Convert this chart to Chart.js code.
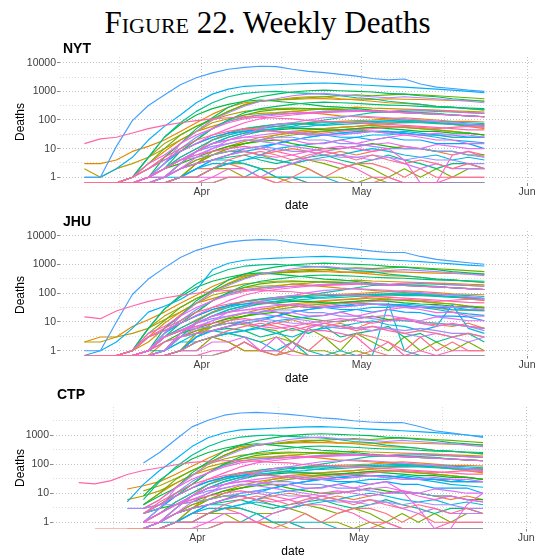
<!DOCTYPE html>
<html><head><meta charset="utf-8">
<script src="https://cdn.jsdelivr.net/npm/chart.js@4.4.1/dist/chart.umd.min.js"></script>
<style>
html,body{margin:0;padding:0;background:#fff;}
#wrap{position:relative;width:535px;height:556px;overflow:hidden;background:#fff;font-family:"Liberation Sans",Arial,sans-serif;}
canvas{position:absolute;left:0;}
.t{position:absolute;white-space:nowrap;line-height:1;color:#000;}
.c{transform:translate(-50%,-50%);font-size:12px;}
.r{transform:translate(-50%,-50%) rotate(-90deg);font-size:12px;}
.p{font-weight:bold;font-size:14px;line-height:14px;}
</style></head><body>
<div id="wrap">
 <div class="t" style="left:0;width:535px;top:6.7px;text-align:center;font-family:'Liberation Serif',serif;font-size:31px;"><span style="font-variant:small-caps">Figure</span> 22. Weekly Deaths</div>
 <div class="t p" style="left:63px;top:41.4px">NYT</div>
 <div class="t p" style="left:63px;top:213.8px">JHU</div>
 <div class="t p" style="left:57px;top:387px">CTP</div>
 <div class="t r" style="left:20px;top:122px">Deaths</div>
 <div class="t r" style="left:20px;top:294.5px">Deaths</div>
 <div class="t r" style="left:20px;top:468px">Deaths</div>
 <div class="t c" style="left:296.7px;top:204.7px">date</div>
 <div class="t c" style="left:296.7px;top:377.7px">date</div>
 <div class="t c" style="left:293px;top:550.7px">date</div>
</div>
<script>
const states = ['AK','AL','AR','AZ','CA','CO','CT','DC','DE','FL','GA','GU','HI','IA','ID','IL','IN','KS','KY','LA','MA','MD','ME','MI','MN','MO','MP','MS','MT','NC','ND','NE','NH','NJ','NM','NV','NY','OH','OK','OR','PA','PR','RI','SC','SD','TN','TX','UT','VA','VI','VT','WA','WI','WV','WY'];
const dates = ['2020-03-10','2020-03-13','2020-03-16','2020-03-19','2020-03-22','2020-03-25','2020-03-28','2020-03-31','2020-04-03','2020-04-06','2020-04-09','2020-04-12','2020-04-15','2020-04-18','2020-04-21','2020-04-24','2020-04-27','2020-04-30','2020-05-03','2020-05-06','2020-05-09','2020-05-12','2020-05-15','2020-05-18','2020-05-21','2020-05-24'];
const monthBreaks = ['2020-04-01','2020-05-01','2020-06-01'];
const monthLabels = ['Apr','May','Jun'];
const minorBreaks = ['2020-03-16T12:00:00Z','2020-04-16T00:00:00Z','2020-05-16T12:00:00Z'];
const yMajorTicks = [1,10,100,1000,10000];
const yMinorTicks = [3.1623,31.623,316.23,3162.3];

// weekly deaths, one row per state (order of `states`), one value per date
const nyt = [
[0,0,0,0,0,0,1,2,2,3,2,1,1,1,0,0,0,0,0,1,0,0,0,0,0,0],
[0,0,0,0,0,1,3,8,20,30,45,55,60,55,50,50,55,60,70,75,80,85,80,75,70,70],
[0,0,0,0,0,1,2,4,6,8,8,6,8,10,8,6,8,6,8,10,12,10,8,6,8,6],
[0,0,0,0,1,2,5,10,20,35,50,60,70,75,80,85,90,95,100,110,120,110,100,90,90,85],
[3,3,4,8,12,20,40,80,160,280,400,450,500,520,550,560,520,540,520,550,530,520,500,480,470,460],
[0,0,0,1,3,8,20,40,60,90,120,150,170,200,180,160,140,130,120,110,100,90,80,70,60,50],
[0,0,0,1,2,5,15,40,100,200,350,450,500,600,650,650,550,500,450,400,380,350,300,280,250,220],
[0,0,0,0,0,0,1,3,8,12,18,25,30,35,40,40,45,45,40,40,35,30,30,25,25,25],
[0,0,0,0,0,0,1,3,6,10,15,20,30,40,45,50,55,60,65,60,55,50,45,40,35,30],
[2,1,2,3,5,10,20,40,80,110,150,170,180,200,220,250,260,280,260,250,240,230,220,210,200,190],
[0,0,0,1,5,15,30,60,100,150,200,230,250,260,250,230,220,210,200,190,180,170,160,150,140,130],
[0,0,0,0,0,0,1,1,2,2,1,1,1,0,0,0,0,0,0,0,0,0,0,0,0,0],
[0,0,0,0,0,0,1,1,2,3,3,2,2,3,2,1,1,0,1,0,0,0,0,0,0,0],
[0,0,0,0,0,0,1,3,6,10,15,20,25,30,35,40,45,50,55,60,55,50,45,40,35,30],
[0,0,0,0,0,1,2,4,6,8,8,6,4,3,4,3,2,3,2,1,2,1,2,1,2,2],
[0,0,0,1,3,10,30,60,110,200,330,450,500,550,600,650,700,750,700,750,800,750,700,650,600,550],
[0,0,0,0,1,3,10,20,50,100,150,200,230,240,250,240,230,220,200,190,180,170,160,150,140,130],
[0,0,0,0,1,2,3,5,8,12,15,18,20,15,12,10,10,12,15,12,10,10,8,8,6,6],
[0,0,0,0,1,2,4,8,15,25,35,40,45,50,50,45,45,50,55,50,45,40,40,35,35,30],
[0,0,0,1,5,25,70,150,250,350,450,500,450,400,350,300,280,250,220,200,190,180,170,150,140,130],
[0,0,0,0,1,5,15,50,120,280,450,650,800,950,1050,1100,1050,1000,950,850,800,700,650,550,500,450],
[0,0,0,0,1,2,8,20,50,100,180,250,300,350,400,420,400,380,350,330,320,300,280,270,260,250],
[0,0,0,0,1,1,2,3,4,5,6,4,3,4,5,6,4,3,4,6,4,3,2,3,3,2],
[0,0,0,1,5,25,80,200,400,650,850,950,1000,900,850,800,700,600,550,450,400,350,300,280,250,230],
[0,0,0,0,0,1,3,8,15,20,30,40,50,60,80,100,120,150,180,190,200,210,200,190,180,170],
[0,0,0,1,2,4,8,15,25,35,50,60,70,80,70,65,70,75,80,85,90,85,80,75,70,65],
[0,0,0,0,0,0,0,0,0,1,1,2,1,1,0,0,0,0,0,0,0,0,0,0,0,0],
[0,0,0,0,1,2,5,10,20,30,40,50,60,70,75,80,80,85,90,85,80,80,75,70,65,60],
[0,0,0,0,0,1,2,3,4,4,3,2,1,1,1,1,0,0,0,0,0,0,0,0,0,0],
[0,0,0,0,0,1,3,8,15,25,35,45,50,55,60,70,80,85,90,95,100,95,90,85,80,75],
[0,0,0,0,0,1,1,2,3,3,4,5,4,3,4,5,6,8,10,8,6,5,6,4,5,4],
[0,0,0,0,0,0,1,1,2,3,4,6,10,12,14,16,20,25,30,30,35,30,25,20,18,16],
[0,0,0,0,0,0,1,2,4,6,8,10,15,20,25,30,35,40,40,35,40,35,30,30,25,25],
[1,1,2,5,20,60,150,400,800,1200,1500,1600,1700,1800,1900,1950,1850,1700,1600,1500,1400,1300,1200,1100,1000,900],
[0,0,0,0,0,0,1,2,4,6,10,12,15,20,25,30,35,35,40,40,35,30,30,25,25,25],
[0,0,0,0,1,3,8,15,25,35,40,45,40,35,30,30,25,25,20,25,20,20,15,15,15,10],
[1,1,12,95,320,750,1700,3000,4400,5900,6900,7500,7300,5900,5000,4500,3900,3400,2800,2500,2700,1800,1400,1260,1100,1000],
[0,0,0,0,1,3,10,25,50,90,130,150,160,170,180,200,210,220,200,190,180,170,160,150,140,130],
[0,0,0,0,1,2,4,8,12,15,20,20,25,25,20,20,15,15,12,10,10,10,8,8,6,5],
[0,0,0,0,1,2,4,5,6,8,10,12,10,8,8,6,5,5,6,5,4,5,4,4,3,3],
[0,0,0,0,1,3,15,40,100,180,300,450,550,700,800,850,750,700,650,600,650,600,550,500,450,400],
[0,0,0,0,1,2,4,6,10,15,20,18,15,12,10,8,6,5,4,5,3,2,3,2,2,2],
[0,0,0,0,0,1,2,5,10,20,30,50,70,80,100,120,130,140,130,120,110,100,90,80,70,60],
[0,0,0,0,1,2,4,8,15,20,25,30,35,40,35,30,30,35,40,35,30,30,35,30,30,25],
[0,0,0,0,0,0,1,1,1,2,2,1,2,3,5,8,10,12,14,16,12,10,14,12,10,10],
[0,0,0,0,0,1,3,8,15,20,25,25,20,20,15,15,20,15,20,25,30,25,20,20,15,15],
[0,0,0,1,3,6,15,30,50,80,110,130,150,170,180,190,200,210,200,190,180,170,160,150,140,130],
[0,0,0,0,1,1,2,3,4,6,8,6,5,6,8,10,12,10,8,10,4,0,0,6,8,5],
[0,0,0,1,2,4,8,15,30,50,80,110,130,150,170,180,190,200,210,200,220,230,210,200,180,170],
[0,0,0,0,0,0,0,0,1,1,1,1,0,0,0,0,0,0,0,0,0,0,0,0,0,0],
[0,0,0,0,1,2,4,6,8,10,12,10,8,6,4,4,3,2,1,1,0,0,0,1,1,1],
[15,22,25,35,50,65,80,95,110,120,130,125,115,110,95,90,85,80,75,70,65,60,55,50,45,45],
[0,0,0,1,2,5,10,20,30,40,50,45,40,35,30,35,40,45,50,55,60,55,50,55,60,55],
[0,0,0,0,0,0,1,1,2,4,6,8,6,4,6,8,6,4,6,4,3,4,3,2,3,2],
[0,0,0,0,0,0,0,0,0,1,1,1,0,1,2,1,2,3,3,2,1,2,1,1,1,1]
];

const jhu = [
[0,0,0,0,0,0,1,2,3,2,1,1,0,1,0,0,0,0,1,0,0,0,0,0,0,0],
[0,0,0,0,0,1,4,10,22,35,50,60,65,55,50,55,60,65,75,80,85,90,80,75,70,65],
[0,0,0,0,0,2,3,5,7,9,10,7,9,12,8,7,9,6,10,12,14,9,8,7,9,6],
[0,0,0,0,1,3,6,12,22,38,52,62,70,78,85,88,92,98,105,112,120,115,105,95,92,88],
[2,3,3,7,12,22,45,85,170,290,410,460,510,530,560,570,530,550,530,560,540,520,500,490,470,460],
[0,0,0,1,3,9,22,45,65,95,125,150,175,210,190,170,150,140,125,115,105,95,85,75,65,55],
[0,0,0,1,2,6,18,45,110,220,380,480,560,620,680,660,560,510,460,410,390,360,310,290,260,230],
[0,0,0,0,0,0,1,4,9,14,20,28,32,38,42,42,48,46,42,40,36,32,30,26,25,24],
[0,0,0,0,0,0,1,4,7,11,16,22,32,42,48,52,58,62,68,62,56,52,46,42,36,32],
[2,2,3,4,6,12,22,45,85,115,155,175,185,205,225,255,265,285,265,255,245,235,225,215,205,195],
[0,0,0,1,6,16,32,65,110,160,210,240,260,270,255,235,225,215,205,195,185,175,165,155,145,135],
[0,0,0,0,0,0,1,2,3,2,1,1,0,1,0,0,0,0,0,0,0,0,0,0,0,0],
[0,0,0,0,0,0,1,1,3,4,3,2,3,2,1,1,0,1,0,0,0,0,0,0,0,0],
[0,0,0,0,0,0,1,3,7,11,16,22,27,32,38,42,48,52,58,62,56,52,46,42,36,32],
[0,0,0,0,0,1,3,5,7,9,8,6,5,2,6,3,1,4,2,1,3,1,2,1,2,1],
[0,0,0,1,4,11,32,65,120,210,340,460,510,560,610,660,720,760,720,760,810,760,710,660,610,560],
[0,0,0,0,1,4,11,22,55,105,160,210,240,250,255,245,235,225,205,195,185,175,165,155,145,135],
[0,0,0,0,1,2,4,6,9,13,16,19,22,16,13,11,10,13,16,12,11,10,9,8,7,6],
[0,0,0,0,1,3,5,9,16,26,36,42,46,52,52,46,46,52,56,52,46,42,40,36,34,30],
[0,0,0,1,6,28,75,160,260,360,460,510,460,410,360,310,290,255,225,205,195,185,175,155,145,135],
[0,0,0,0,1,6,16,55,130,290,460,660,820,970,1060,1110,1060,1010,960,860,810,710,660,560,510,460],
[0,0,0,0,1,3,9,22,55,105,190,260,310,360,410,430,410,390,360,340,330,310,290,280,270,260],
[0,0,0,0,1,1,3,4,5,6,5,3,4,6,4,7,3,4,5,7,3,4,2,3,4,2],
[0,0,0,1,6,28,85,210,420,670,870,970,1020,920,860,810,710,610,560,460,410,360,310,290,260,240],
[0,0,0,0,0,1,3,9,16,22,32,42,52,62,85,105,125,155,185,195,205,215,205,195,185,175],
[0,0,0,1,3,5,9,16,27,37,52,62,72,82,72,67,72,77,82,87,92,87,82,77,72,67],
[0,0,0,0,0,0,0,0,0,1,2,1,1,2,0,0,0,0,0,0,0,0,0,0,0,0],
[0,0,0,0,1,3,6,11,21,32,42,52,62,72,78,82,82,88,92,88,82,82,78,72,68,62],
[0,0,0,0,0,1,2,4,5,4,3,2,1,2,1,0,1,0,0,45,1,0,0,0,0,0],
[0,0,0,0,0,1,4,9,16,27,37,47,52,57,62,72,82,87,92,97,102,97,92,87,82,77],
[0,0,0,0,0,1,2,2,3,4,5,6,4,3,5,6,7,9,11,8,7,5,7,40,6,4],
[0,0,0,0,0,0,1,2,3,4,5,7,11,13,15,17,22,27,32,32,37,32,27,22,19,17],
[0,0,0,0,0,0,1,3,5,7,9,11,16,22,27,32,37,42,42,37,42,37,32,32,27,26],
[0,1,2,6,22,35,60,130,650,1100,1400,1550,1650,1750,1850,1900,1800,1650,1550,1450,1350,1250,1150,1050,950,880],
[0,0,0,0,0,0,1,3,5,7,11,13,16,22,27,32,37,37,42,42,37,32,32,27,26,25],
[0,0,0,0,1,4,9,16,27,37,42,47,42,37,32,32,27,27,22,27,22,21,16,16,15,11],
[1,1,10,90,310,760,1750,3100,4500,6000,6900,7300,7100,5800,5000,4500,3900,3400,2900,2600,2600,1900,1500,1300,1150,1020],
[0,0,0,0,1,4,11,27,55,95,135,155,165,175,185,205,215,225,205,195,185,175,165,155,145,135],
[0,0,0,0,1,3,5,9,13,16,21,22,26,26,21,21,16,16,13,11,11,10,9,8,7,5],
[0,0,0,0,1,3,5,6,7,9,11,13,11,9,9,7,6,6,7,6,5,6,5,4,4,3],
[0,0,0,0,1,4,16,45,105,190,310,460,560,710,810,860,760,710,660,610,660,610,560,510,460,410],
[0,0,0,0,1,3,5,7,11,16,21,19,16,13,11,9,7,6,5,6,4,3,4,3,2,3],
[0,0,0,0,0,1,3,6,11,22,32,52,72,82,105,125,135,145,135,125,115,105,95,85,75,65],
[0,0,0,0,1,3,5,9,16,22,26,32,37,42,37,32,32,37,42,37,32,32,37,32,32,26],
[0,0,0,0,0,0,1,1,2,2,3,1,3,1,6,9,11,13,15,17,13,11,15,13,11,11],
[0,0,0,0,0,1,4,9,16,22,26,27,22,21,16,17,22,16,21,27,32,27,21,22,16,16],
[0,0,0,1,4,7,16,32,55,85,115,135,155,175,185,195,205,215,205,195,185,175,165,155,145,135],
[0,0,0,0,1,2,3,4,5,7,9,7,6,7,9,11,13,11,9,11,13,9,7,9,7,6],
[0,0,0,1,3,5,9,17,32,55,85,115,135,155,175,185,195,205,215,205,225,235,215,205,185,175],
[0,0,0,0,0,0,0,0,1,1,2,1,1,0,0,0,0,0,0,0,0,0,0,0,0,0],
[0,0,0,0,1,3,5,7,9,11,13,11,9,7,5,5,4,3,1,2,0,1,0,1,1,1],
[15,13,24,36,52,68,84,100,115,125,135,128,118,112,98,92,88,82,78,72,68,62,58,52,48,46],
[0,0,0,1,3,6,11,22,32,42,52,47,42,37,32,37,42,47,52,57,62,57,52,57,62,57],
[0,0,0,0,0,0,1,2,3,5,7,9,7,5,7,9,7,5,7,5,4,5,4,3,4,3],
[0,0,0,0,0,0,0,0,0,1,2,1,0,2,1,3,2,4,3,2,1,3,1,2,1,1]
];

const ctp = [
[null,0,0,0,0,0,1,2,2,3,2,1,1,1,0,0,0,0,0,1,0,0,0,0,0,0],
[null,null,null,null,null,1,3,8,20,30,45,55,60,55,50,50,55,60,70,75,80,85,80,75,70,70],
[null,null,null,0,0,1,2,4,6,8,8,6,8,10,8,6,8,6,8,10,12,10,8,6,8,6],
[null,null,null,null,1,2,5,10,20,35,50,60,70,75,80,85,90,95,100,110,120,110,100,90,90,85],
[null,null,null,14,18,25,45,85,160,280,400,450,500,520,550,560,520,540,520,550,530,520,500,480,470,460],
[null,null,null,null,4,10,22,42,62,92,125,150,170,200,180,160,140,130,120,110,100,90,80,70,60,50],
[null,null,null,null,3,6,16,40,100,200,350,450,500,600,650,650,550,500,450,400,380,350,300,280,250,220],
[null,null,null,null,0,1,2,3,8,12,18,25,30,35,40,40,45,45,40,40,35,30,30,25,25,25],
[null,null,null,null,0,0,1,3,6,10,15,20,30,40,45,50,55,60,65,60,55,50,45,40,35,30],
[null,null,null,6,8,12,22,42,80,110,150,170,180,200,220,250,260,280,260,250,240,230,220,210,200,190],
[null,null,null,null,12,18,32,60,100,150,200,230,250,260,250,230,220,210,200,190,180,170,160,150,140,130],
[null,null,null,null,null,0,1,1,2,2,1,1,1,0,0,0,0,0,0,0,0,0,0,0,0,0],
[null,null,null,null,0,0,1,1,2,3,3,2,2,3,2,1,1,0,1,0,0,0,0,0,0,0],
[null,null,null,null,0,0,1,3,6,10,15,20,25,30,35,40,45,50,55,60,55,50,45,40,35,30],
[null,null,null,null,0,1,2,4,6,8,8,6,4,3,4,3,2,3,2,1,2,1,2,1,2,2],
[null,null,null,null,4,10,30,60,110,200,330,450,500,550,600,650,700,750,700,750,800,750,700,650,600,550],
[null,null,null,null,2,4,10,20,50,100,150,200,230,240,250,240,230,220,200,190,180,170,160,150,140,130],
[null,null,null,null,2,3,4,5,8,12,15,18,20,15,12,10,10,12,15,12,10,10,8,8,6,6],
[null,null,null,null,1,2,4,8,15,25,35,40,45,50,50,45,45,50,55,50,45,40,40,35,35,30],
[null,null,null,null,8,28,70,150,250,350,450,500,450,400,350,300,280,250,220,200,190,180,170,150,140,130],
[null,null,null,null,4,8,15,50,120,280,450,650,800,950,1050,1100,1050,1000,950,850,800,700,650,550,500,450],
[null,null,null,null,2,3,8,20,50,100,180,250,300,350,400,420,400,380,350,330,320,300,280,270,260,250],
[null,null,null,null,0,1,2,3,4,5,6,4,3,4,5,6,4,3,4,6,4,3,2,3,3,2],
[null,null,null,null,6,25,80,200,400,650,850,950,1000,900,850,800,700,600,550,450,400,350,300,280,250,230],
[null,null,null,null,0,1,3,8,15,20,30,40,50,60,80,100,120,150,180,190,200,210,200,190,180,170],
[null,null,null,null,3,4,8,15,25,35,50,60,70,80,70,65,70,75,80,85,90,85,80,75,70,65],
[null,null,null,null,null,null,0,0,0,1,1,2,1,1,0,0,0,0,0,0,0,0,0,0,0,0],
[null,null,null,null,1,2,5,10,20,30,40,50,60,70,75,80,80,85,90,85,80,80,75,70,65,60],
[null,null,null,null,0,1,2,3,4,4,3,2,1,1,1,1,0,0,0,0,0,0,0,0,0,0],
[null,null,null,null,0,1,3,8,15,25,35,45,50,55,60,70,80,85,90,95,100,95,90,85,80,75],
[null,null,null,null,0,1,1,2,3,3,4,5,4,3,4,5,6,8,10,8,6,5,6,4,5,4],
[null,null,null,null,0,0,1,1,2,3,4,6,10,12,14,16,20,25,30,30,35,30,25,20,18,16],
[null,null,null,null,0,0,1,2,4,6,8,10,15,20,25,30,35,40,40,35,40,35,30,30,25,25],
[null,null,null,5,20,60,150,400,800,1200,1500,1600,1700,1800,1900,1950,1850,1700,1600,1500,1400,1300,1200,1100,1000,900],
[null,null,null,null,0,0,1,2,4,6,10,12,15,20,25,30,35,35,40,40,35,30,30,25,25,25],
[null,null,null,null,1,3,8,15,25,35,40,45,40,35,30,30,25,25,20,25,20,20,15,15,15,10],
[null,null,null,null,110,250,700,1900,3200,4800,5700,6000,5600,5100,4500,3900,3600,3100,2800,2650,2700,2000,1400,1180,1000,830],
[null,null,null,null,2,3,10,25,50,90,130,150,160,170,180,200,210,220,200,190,180,170,160,150,140,130],
[null,null,null,null,1,2,4,8,12,15,20,20,25,25,20,20,15,15,12,10,10,10,8,8,6,5],
[null,null,null,3,3,4,4,5,6,8,10,12,10,8,8,6,5,5,6,5,4,5,4,4,3,3],
[null,null,null,null,1,3,15,40,100,180,300,450,550,700,800,850,750,700,650,600,650,600,550,500,450,400],
[null,null,null,null,1,2,4,6,10,15,20,18,15,12,10,8,6,5,4,5,3,2,3,2,2,2],
[null,null,null,null,0,1,2,5,10,20,30,50,70,80,100,120,130,140,130,120,110,100,90,80,70,60],
[null,null,null,null,1,2,4,8,15,20,25,30,35,40,35,30,30,35,40,35,30,30,35,30,30,25],
[null,null,null,null,0,0,1,1,1,2,2,1,2,3,5,8,10,12,14,16,12,10,14,12,10,10],
[null,null,null,null,0,1,3,8,15,20,25,25,20,20,15,15,20,15,20,25,12,3,0,0,4,10],
[null,null,null,null,3,6,15,30,50,80,110,130,150,170,180,190,200,210,200,190,180,170,160,150,140,130],
[null,null,null,null,1,1,2,3,4,6,8,6,5,6,8,10,12,10,8,10,12,8,6,8,6,5],
[null,null,null,null,2,4,8,15,30,50,80,110,130,150,170,180,190,200,210,200,220,230,210,200,180,170],
[null,null,null,null,null,0,0,0,1,1,1,1,0,0,0,0,0,0,0,0,0,0,0,0,0,0],
[null,null,null,null,1,2,4,6,8,10,12,10,8,6,4,4,3,2,1,1,0,0,0,1,1,1],
[23,21,27,44,60,75,95,115,125,130,135,125,115,110,95,90,85,80,75,70,65,60,55,50,45,45],
[null,null,null,null,2,5,10,20,30,40,50,45,40,35,30,35,40,45,50,55,60,55,50,55,60,55],
[null,null,null,null,0,0,1,1,2,4,6,8,6,4,6,8,6,4,6,4,3,4,3,2,3,2],
[null,null,null,null,0,0,0,0,0,1,1,1,0,1,2,1,2,3,3,2,1,2,1,1,1,1]
];

// ---------- styling / layout (not data) ----------
function dayOf(s){ const iso = s.length === 10 ? s + 'T00:00:00Z' : s; return (Date.parse(iso) - Date.parse('2020-03-01T00:00:00Z')) / 864e5; }
function hcl(h, c, l){
  const hr = h * Math.PI / 180, U = c * Math.cos(hr), V = c * Math.sin(hr);
  const Y = l > 7.999592 ? Math.pow((l + 16) / 116, 3) : l / 903.3;
  const Xn = 0.95047, Yn = 1, Zn = 1.08883, d = Xn + 15 * Yn + 3 * Zn;
  const un = 4 * Xn / d, vn = 9 * Yn / d;
  const u = U / (13 * l) + un, v = V / (13 * l) + vn;
  const X = Y * 9 * u / (4 * v), Z = Y * (12 - 3 * u - 20 * v) / (4 * v);
  const lin = [3.2404542*X - 1.5371385*Y - 0.4985314*Z, -0.9692660*X + 1.8760108*Y + 0.0415560*Z, 0.0556434*X - 0.2040259*Y + 1.0572252*Z];
  const g = x => { x = x <= 0.0031308 ? 12.92 * x : 1.055 * Math.pow(x, 1 / 2.4) - 0.055; return Math.round(Math.min(1, Math.max(0, x)) * 255); };
  return 'rgb(' + lin.map(g).join(',') + ')';
}
const n = states.length;
const colors = states.map((s, i) => hcl(15 + 360 * i / n, 100, 65));
const dayNums = dates.map(dayOf);
const xMajor = monthBreaks.map(dayOf);
const xMinor = minorBreaks.map(dayOf);

const panels = [
  {rows: nyt, top: 40, h: 175, left: 60, right: 533, aTop: 57, aBot: 183, xMin: 4.43, xMax: 93.12, yMin: 0.632, yMax: 15810},
  {rows: jhu, top: 215, h: 170, left: 60, right: 533, aTop: 231, aBot: 355.5, xMin: 4.43, xMax: 93.12, yMin: 0.681, yMax: 14570},
  {rows: ctp, top: 385, h: 171, left: 53, right: 531, aTop: 407, aBot: 528.5, xMin: 4.23, xMax: 92.9, yMin: 0.612, yMax: 9170}
];

Chart.defaults.font.family = "'Liberation Sans', Arial, sans-serif";
const wrap = document.getElementById('wrap');
const tickFont = {size: 10.5};
const tickCol = '#3d3d3d';
const gridMaj = '#c2c2c2', gridMin = '#dcdcdc';

panels.forEach(p => {
  const cv = document.createElement('canvas');
  cv.width = 535; cv.height = p.h; cv.style.top = p.top + 'px';
  wrap.insertBefore(cv, wrap.firstChild);
  const datasets = states.map((s, i) => ({
    label: s,
    data: p.rows[i].map((v, k) => v === null ? null : {x: dayNums[k], y: v === 0 ? p.yMin : v}).filter(Boolean),
    borderColor: colors[i], borderWidth: 1.15, pointRadius: 0, fill: false, tension: 0,
    borderJoinStyle: 'round', order: -i, clip: 0
  }));
  new Chart(cv, {
    type: 'line',
    data: {datasets},
    options: {
      responsive: false, animation: false, devicePixelRatio: 1, events: [],
      layout: {padding: {top: p.aTop - p.top, right: 535 - p.right, left: 0, bottom: 0}},
      plugins: {legend: {display: false}, tooltip: {enabled: false}, title: {display: false}},
      scales: {
        x: {
          type: 'linear', min: p.xMin, max: p.xMax, bounds: 'data',
          afterBuildTicks: s => { s.ticks = xMinor.map(v => ({value: v, major: false})).concat(xMajor.map(v => ({value: v, major: true}))).sort((a, b) => a.value - b.value); },
          afterFit: s => { s.height = p.top + p.h - p.aBot; s.paddingLeft = 0; s.paddingRight = 0; },
          ticks: {autoSkip: false, maxRotation: 0, padding: 0, color: tickCol, font: tickFont,
            callback: v => { const j = xMajor.findIndex(m => Math.abs(m - v) < 0.01); return j >= 0 ? monthLabels[j] : ''; }},
          grid: {color: c => (c.tick && c.tick.major) ? gridMaj : gridMin, lineWidth: 1, borderDash: [1, 2], tickLength: 3,
            tickColor: c => (c.tick && c.tick.major) ? '#8a8a8a' : 'rgba(0,0,0,0)', tickBorderDash: []},
          border: {display: false, dash: [1, 2]}
        },
        y: {
          type: 'logarithmic', min: p.yMin, max: p.yMax, bounds: 'data',
          afterBuildTicks: s => { s.ticks = yMajorTicks.map(v => ({value: v, major: true})).concat(yMinorTicks.map(v => ({value: v, major: false}))).filter(t => t.value >= p.yMin && t.value <= p.yMax).sort((a, b) => a.value - b.value); },
          afterFit: s => { s.width = p.left; s.paddingTop = 0; s.paddingBottom = 0; },
          ticks: {autoSkip: false, padding: 1, color: tickCol, font: tickFont,
            callback: v => yMajorTicks.includes(v) ? String(v) : ''},
          grid: {color: c => (c.tick && c.tick.major) ? gridMaj : gridMin, lineWidth: 1, borderDash: [1, 2], tickLength: 3,
            tickColor: c => (c.tick && c.tick.major) ? '#8a8a8a' : 'rgba(0,0,0,0)', tickBorderDash: []},
          border: {display: false, dash: [1, 2]}
        }
      }
    }
  });
});
</script>
</body></html>
